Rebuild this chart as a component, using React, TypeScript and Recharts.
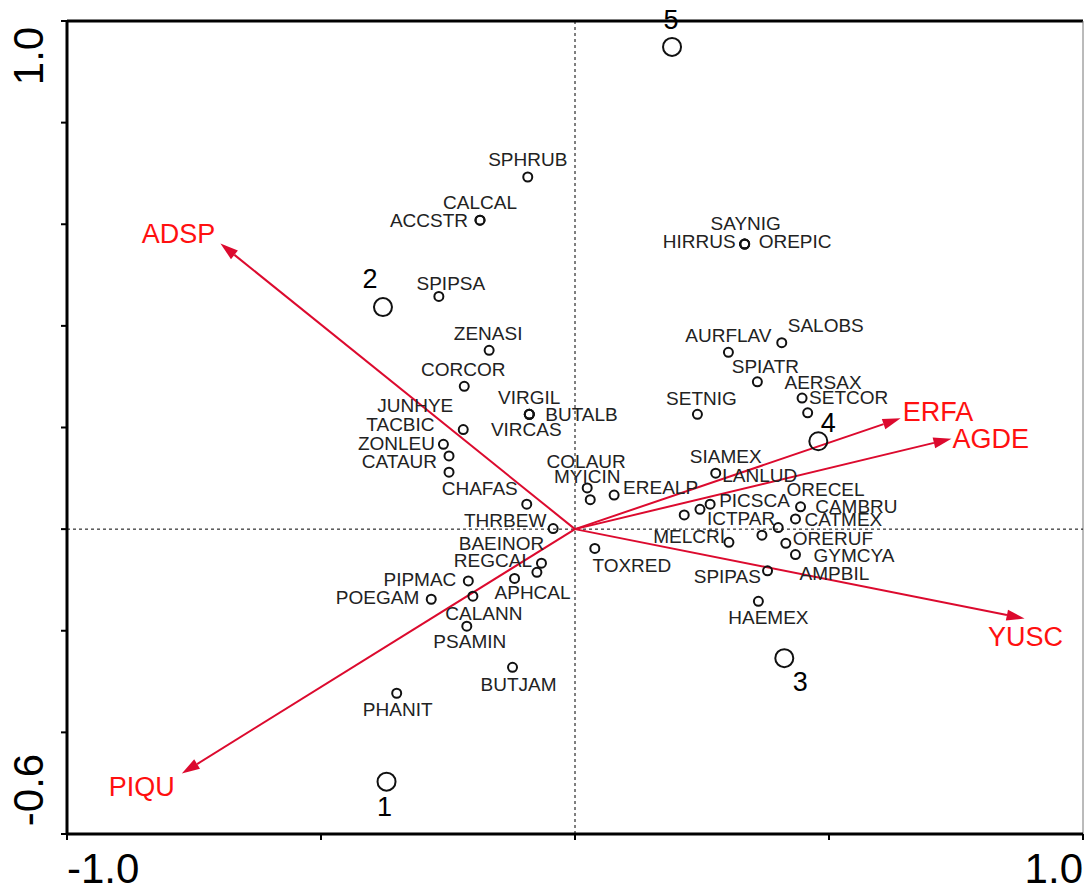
import React from 'react';
import { ScatterChart, Scatter, XAxis, YAxis, ReferenceLine } from 'recharts';

// site scores (samples 1-5)
const sites = [
  { name: '1', x: -0.371, y: -0.497 },
  { name: '2', x: -0.378, y: 0.437 },
  { name: '3', x: 0.412, y: -0.254 },
  { name: '4', x: 0.479, y: 0.173 },
  { name: '5', x: 0.191, y: 0.949 },
];

// species scores
const species = [
  { name: 'SPHRUB', x: -0.093, y: 0.693 },
  { name: 'CALCAL', x: -0.187, y: 0.608 },
  { name: 'ACCSTR', x: -0.187, y: 0.608 },
  { name: 'SPIPSA', x: -0.268, y: 0.458 },
  { name: 'ZENASI', x: -0.169, y: 0.352 },
  { name: 'CORCOR', x: -0.218, y: 0.281 },
  { name: 'VIRGIL', x: -0.09, y: 0.226 },
  { name: 'BUTALB', x: -0.09, y: 0.226 },
  { name: 'VIRCAS', x: -0.09, y: 0.226 },
  { name: 'JUNHYE', x: -0.22, y: 0.196 },
  { name: 'TACBIC', x: -0.259, y: 0.167 },
  { name: 'ZONLEU', x: -0.248, y: 0.144 },
  { name: 'CATAUR', x: -0.248, y: 0.112 },
  { name: 'CHAFAS', x: -0.095, y: 0.049 },
  { name: 'THRBEW', x: -0.043, y: 0.001 },
  { name: 'BAEINOR', x: -0.066, y: -0.067 },
  { name: 'REGCAL', x: -0.075, y: -0.085 },
  { name: 'APHCAL', x: -0.119, y: -0.097 },
  { name: 'PIPMAC', x: -0.21, y: -0.102 },
  { name: 'POEGAM', x: -0.283, y: -0.138 },
  { name: 'CALANN', x: -0.201, y: -0.132 },
  { name: 'PSAMIN', x: -0.213, y: -0.191 },
  { name: 'BUTJAM', x: -0.123, y: -0.272 },
  { name: 'PHANIT', x: -0.351, y: -0.323 },
  { name: 'TOXRED', x: 0.039, y: -0.038 },
  { name: 'COLAUR', x: 0.024, y: 0.081 },
  { name: 'MYICIN', x: 0.03, y: 0.058 },
  { name: 'EREALP', x: 0.077, y: 0.067 },
  { name: 'SAYNIG', x: 0.334, y: 0.561 },
  { name: 'HIRRUS', x: 0.334, y: 0.561 },
  { name: 'OREPIC', x: 0.334, y: 0.561 },
  { name: 'SALOBS', x: 0.407, y: 0.367 },
  { name: 'AURFLAV', x: 0.302, y: 0.348 },
  { name: 'SPIATR', x: 0.359, y: 0.29 },
  { name: 'AERSAX', x: 0.447, y: 0.258 },
  { name: 'SETCOR', x: 0.458, y: 0.229 },
  { name: 'SETNIG', x: 0.241, y: 0.226 },
  { name: 'SIAMEX', x: 0.277, y: 0.11 },
  { name: 'LANLUD', x: 0.215, y: 0.028 },
  { name: 'PICSCA', x: 0.266, y: 0.049 },
  { name: 'ICTPAR', x: 0.246, y: 0.039 },
  { name: 'MELCRI', x: 0.303, y: -0.026 },
  { name: 'ORECEL', x: 0.444, y: 0.044 },
  { name: 'CAMBRU', x: 0.4, y: 0.003 },
  { name: 'CATMEX', x: 0.434, y: 0.02 },
  { name: 'SPIPAS', x: 0.368, y: -0.012 },
  { name: 'ORERUF', x: 0.415, y: -0.028 },
  { name: 'GYMCYA', x: 0.434, y: -0.05 },
  { name: 'AMPBIL', x: 0.379, y: -0.082 },
  { name: 'HAEMEX', x: 0.361, y: -0.142 },
];

// environmental variable vectors
const vectors = [
  { name: 'ADSP', x: -0.698, y: 0.562 },
  { name: 'PIQU', x: -0.774, y: -0.481 },
  { name: 'ERFA', x: 0.641, y: 0.218 },
  { name: 'AGDE', x: 0.741, y: 0.178 },
  { name: 'YUSC', x: 0.885, y: -0.176 },
];

const xTicks = [-1, -0.5, 0, 0.5, 1];
const yTicks = [-0.6, -0.4, -0.2, 0, 0.2, 0.4, 0.6, 0.8, 1];

// label placement (anchor, dx, dy in px from the point)
type Pos = [string, number, number];
const spLabel: Record<string, Pos> = {
  SPHRUB: ['middle', 0, -17], CALCAL: ['middle', 0, -18], ACCSTR: ['end', -12, 0],
  SPIPSA: ['middle', 12, -13], ZENASI: ['middle', -1, -17], CORCOR: ['middle', -1, -17],
  VIRGIL: ['middle', 0, -17], BUTALB: ['start', 16, 0], VIRCAS: ['middle', -3, 15],
  JUNHYE: ['middle', -48, -24], TACBIC: ['middle', -43, -20], ZONLEU: ['end', -14, -12],
  CATAUR: ['end', -12, -11], CHAFAS: ['middle', -47, -16], THRBEW: ['middle', -48, -8],
  BAEINOR: ['middle', -40, -20], REGCAL: ['middle', -44, -12], APHCAL: ['middle', 18, 14],
  PIPMAC: ['end', -12, -1], POEGAM: ['end', -12, -2], CALANN: ['middle', 11, 17],
  PSAMIN: ['middle', 3, 15], BUTJAM: ['middle', 6, 17], PHANIT: ['middle', 1, 16],
  TOXRED: ['middle', 37, 17], COLAUR: ['middle', -1, -26], MYICIN: ['middle', -3, -23],
  EREALP: ['start', 9, -8], SAYNIG: ['middle', 1, -21], HIRRUS: ['end', -9, -3],
  OREPIC: ['start', 14, -3], SALOBS: ['middle', 44, -17], AURFLAV: ['middle', 0, -17],
  SPIATR: ['middle', 8, -15], AERSAX: ['middle', 21, -16], SETCOR: ['middle', 41, -15],
  SETNIG: ['middle', 4, -16], SIAMEX: ['middle', 10, -17], LANLUD: ['start', 38, -39],
  PICSCA: ['start', 9, -4], ICTPAR: ['start', 7, 9], MELCRI: ['end', -4, -6],
  ORECEL: ['middle', 25, -17], CAMBRU: ['start', 37, -21], CATMEX: ['start', 9, 1],
  SPIPAS: ['end', -1, 41], ORERUF: ['start', 7, -5], GYMCYA: ['start', 18, 1],
  AMPBIL: ['start', 32, 3], HAEMEX: ['middle', 10, 16],
};
const siteLabel: Record<string, Pos> = {
  '1': ['middle', -2, 25], '2': ['middle', -13, -28], '3': ['middle', 16, 24],
  '4': ['middle', 10, -18], '5': ['middle', -1, -27],
};
const vecLabel: Record<string, Pos> = {
  ADSP: ['middle', -42, -10], PIQU: ['middle', -40, 13], ERFA: ['start', 2, -6],
  AGDE: ['start', 1, 0], YUSC: ['middle', 1, 18],
};

const FONT = '"Liberation Sans", Arial, sans-serif';
const RED_LINE = '#dc0a2e';
const RED_TEXT = '#ff1010';

const SpeciesDot = (p: any) => {
  const [a, dx, dy] = spLabel[p.payload.name] || ['middle', 0, -17];
  return (
    <g>
      <circle cx={p.cx} cy={p.cy} r={4.5} fill="none" stroke="#111" strokeWidth={2} />
      <text x={p.cx + dx} y={p.cy + dy} textAnchor={a as any} dominantBaseline="central"
        fontFamily={FONT} fontSize={19} fill="#222">{p.payload.name}</text>
    </g>
  );
};

const SiteDot = (p: any) => {
  const [a, dx, dy] = siteLabel[p.payload.name];
  return (
    <g>
      <circle cx={p.cx} cy={p.cy} r={9} fill="none" stroke="#111" strokeWidth={2} />
      <text x={p.cx + dx} y={p.cy + dy} textAnchor={a as any} dominantBaseline="central"
        fontFamily={FONT} fontSize={27} fill="#000">{p.payload.name}</text>
    </g>
  );
};

const arrowShape = (name: string) => (p: any) => {
  const { x1, y1, x2, y2 } = p;
  const ang = Math.atan2(y2 - y1, x2 - x1);
  const L = 18;
  const W = 5.5;
  const bx = x2 - L * Math.cos(ang);
  const by = y2 - L * Math.sin(ang);
  const px = -Math.sin(ang) * W;
  const py = Math.cos(ang) * W;
  const [a, dx, dy] = vecLabel[name];
  return (
    <g>
      <line x1={x1} y1={y1} x2={bx} y2={by} stroke={RED_LINE} strokeWidth={2} />
      <polygon points={`${x2},${y2} ${bx + px},${by + py} ${bx - px},${by - py}`} fill={RED_LINE} />
      <text x={x2 + dx} y={y2 + dy} textAnchor={a as any} dominantBaseline="central"
        fontFamily={FONT} fontSize={27} fill={RED_TEXT}>{name}</text>
    </g>
  );
};

const XTick = (p: any) => {
  const v = p.payload.value;
  if (v !== -1 && v !== 1) return <g />;
  return (
    <text x={p.x} y={p.y + 28} textAnchor={v === -1 ? 'start' : 'end'} dominantBaseline="central"
      fontFamily={FONT} fontSize={42} fill="#000">{v.toFixed(1)}</text>
  );
};

const YTick = (p: any) => {
  const v = p.payload.value;
  if (v !== -0.6 && v !== 1) return <g />;
  const cx = p.x - 33;
  const cy = v === 1 ? p.y + 35 : p.y - 44;
  return (
    <text x={cx} y={cy} textAnchor="middle" dominantBaseline="central"
      transform={`rotate(-90, ${cx}, ${cy})`}
      fontFamily={FONT} fontSize={42} fill="#000">{v.toFixed(1)}</text>
  );
};

export default function App() {
  return (
    <div style={{ position: 'absolute', left: 0, top: 0, width: 1084, height: 890, background: '#fff' }}>
      <ScatterChart width={1084} height={890} margin={{ top: 21, right: 1, bottom: 0, left: 0 }}>
        <XAxis type="number" dataKey="x" domain={[-1, 1]} ticks={xTicks} height={56}
          axisLine={{ stroke: '#000', strokeWidth: 3 }} tickLine={{ stroke: '#000', strokeWidth: 2 }}
          tickSize={6} tickMargin={0} tick={<XTick />} interval={0} />
        <YAxis type="number" dataKey="y" domain={[-0.6, 1]} ticks={yTicks} width={67}
          axisLine={{ stroke: '#000', strokeWidth: 3 }} tickLine={{ stroke: '#000', strokeWidth: 2 }}
          tickSize={6} tickMargin={0} tick={<YTick />} interval={0} />
        <ReferenceLine y={1} stroke="#000" strokeWidth={3} />
        <ReferenceLine x={1} stroke="#777" strokeWidth={1} />
        <ReferenceLine x={0} stroke="#000" strokeWidth={1} strokeDasharray="3 3" />
        <ReferenceLine y={0} stroke="#000" strokeWidth={1} strokeDasharray="3 3" />
        {vectors.map((v) => (
          <ReferenceLine key={v.name} segment={[{ x: 0, y: 0 }, { x: v.x, y: v.y }]}
            shape={arrowShape(v.name)} />
        ))}
        <Scatter data={species} shape={(p: any) => <SpeciesDot {...p} />} isAnimationActive={false} />
        <Scatter data={sites} shape={(p: any) => <SiteDot {...p} />} isAnimationActive={false} />
      </ScatterChart>
    </div>
  );
}
